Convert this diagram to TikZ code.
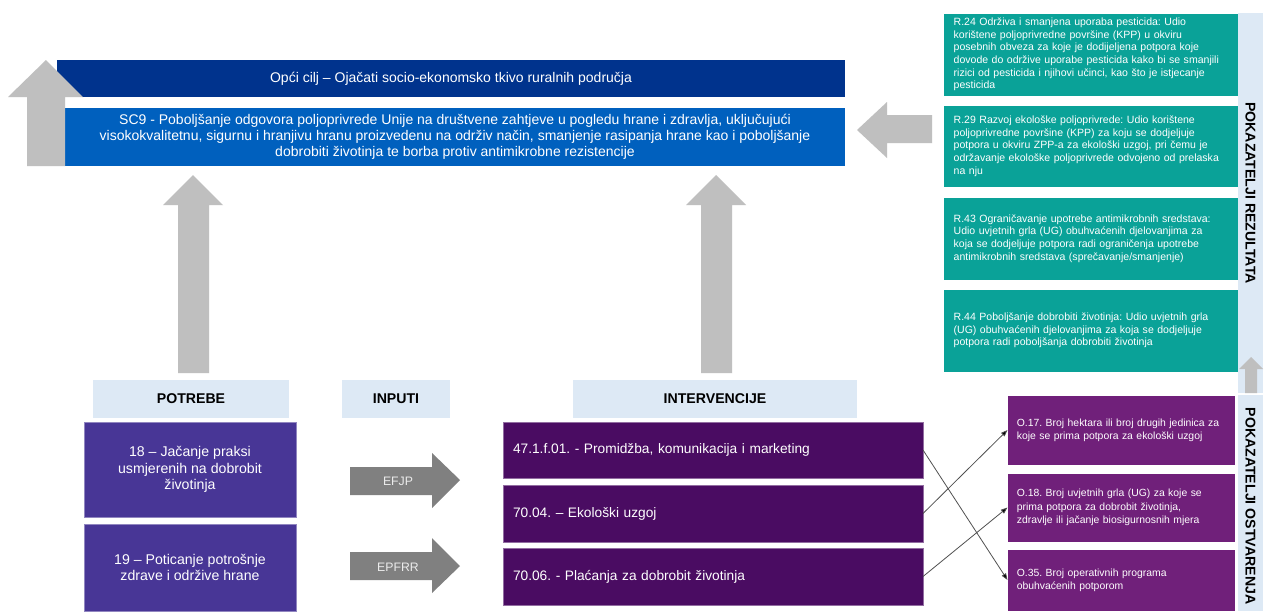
\documentclass[tikz,border=0pt]{standalone}
\usepackage{fontspec}
\setmainfont{Liberation Sans}
\usetikzlibrary{arrows.meta}
\frenchspacing
\definecolor{navyc}{RGB}{0,51,141}
\definecolor{scblue}{RGB}{0,96,190}
\definecolor{tealc}{RGB}{10,162,152}
\definecolor{potc}{RGB}{72,54,150}
\definecolor{intc}{RGB}{74,12,98}
\definecolor{outc}{RGB}{112,32,122}
\definecolor{hdrc}{RGB}{221,233,245}
\definecolor{arrlight}{RGB}{191,191,191}
\definecolor{arrdark}{RGB}{128,128,128}
\definecolor{connc}{RGB}{80,80,80}
\begin{document}
\begin{tikzpicture}[x=0.75pt,y=-0.75pt,
  blk/.style={rectangle, inner sep=0pt, outer sep=0pt, text=white},
  topbox/.style={blk, font=\fontsize{10.5}{11.8}\selectfont, align=center},
  tealbox/.style={blk, fill=tealc, draw=white, line width=0.4pt, minimum width=219pt, inner xsep=7.5pt, text width=206pt, align=left, font=\fontsize{7.9}{9.5}\selectfont},
  outbox/.style={blk, fill=outc, draw=white, line width=0.4pt, minimum width=170.25pt, inner xsep=7pt, text width=157pt, align=left, font=\fontsize{7.8}{10}\selectfont},
  intbox/.style={blk, fill=intc, draw=intc!60!white, line width=0.4pt, minimum width=315pt, inner xsep=7.5pt, text width=300pt, align=left, font=\fontsize{10.3}{12}\selectfont},
  potbox/.style={blk, fill=potc, draw=potc!60!white, line width=0.4pt, minimum width=159pt, align=center, font=\fontsize{10.6}{12.5}\selectfont},
  hdr/.style={blk, fill=hdrc, text=black, minimum height=28.5pt, font=\fontsize{10.6}{12}\selectfont\bfseries},
  strip/.style={blk, fill=hdrc, minimum width=18.75pt},
  striptext/.style={inner sep=0pt, rotate=-90, text=black, font=\fontsize{10.6}{12}\selectfont\bfseries},
  arrtext/.style={inner sep=0pt, text=white!92!black, font=\fontsize{9.2}{11}\selectfont},
  conn/.style={draw=connc, line width=0.6pt, -{Triangle[length=5pt,width=3.6pt,fill=black]}}
]
\useasboundingbox (0,0) rectangle (1264,611);
\fill[white] (0,0) rectangle (1264,611);

% top goals
\node[topbox, fill=navyc, minimum width=591pt, minimum height=27.75pt] (opci) at (451,78.5)
  {Opći cilj – Ojačati socio-ekonomsko tkivo ruralnih područja};
\node[topbox, fill=scblue, minimum width=585pt, minimum height=43.5pt] (sc9) at (455,137)
  {SC9 - Poboljšanje odgovora poljoprivrede Unije na društvene zahtjeve u pogledu hrane i zdravlja, uključujući\\
   visokokvalitetnu, sigurnu i hranjivu hranu proizvedenu na održiv način, smanjenje rasipanja hrane kao i poboljšanje\\
   dobrobiti životinja te borba protiv antimikrobne rezistencije};

% big left up arrow
\fill[arrlight] (27,166) -- (27,97) -- (8,97) -- (46,60) -- (83,97) -- (65,97) -- (65,166) -- cycle;

% arrow from results to SC9
\fill[arrlight] (857,130) -- (887,102) -- (887,115) -- (932,115) -- (932,143) -- (887,143) -- (887,158) -- cycle;

% up arrows from needs / interventions
\fill[arrlight] (193,175) -- (223,205) -- (209,205) -- (209,373) -- (178,373) -- (178,205) -- (163,205) -- cycle;
\fill[arrlight] (716,175) -- (746,205) -- (732,205) -- (732,373) -- (701,373) -- (701,205) -- (686,205) -- cycle;

% result indicators
\node[tealbox, minimum height=62.25pt] (r24) at (1091,54.5)
  {R.24 Održiva i smanjena uporaba pesticida: Udio\\
   korištene poljoprivredne površine (KPP) u okviru\\
   posebnih obveza za koje je dodijeljena potpora koje\\
   dovode do održive uporabe pesticida kako bi se smanjili\\
   rizici od pesticida i njihovi učinci, kao što je istjecanje\\
   pesticida};
\node[tealbox, minimum height=61.5pt] (r29) at (1091,146)
  {R.29 Razvoj ekološke poljoprivrede: Udio korištene\\
   poljoprivredne površine (KPP) za koju se dodjeljuje\\
   potpora u okviru ZPP-a za ekološki uzgoj, pri čemu je\\
   održavanje ekološke poljoprivrede odvojeno od prelaska\\
   na nju};
\node[tealbox, minimum height=62.25pt] (r43) at (1091,238.5)
  {R.43 Ograničavanje upotrebe antimikrobnih sredstava:\\
   Udio uvjetnih grla (UG) obuhvaćenih djelovanjima za\\
   koja se dodjeljuje potpora radi ograničenja upotrebe\\
   antimikrobnih sredstava (sprečavanje/smanjenje)};
\node[tealbox, minimum height=62.25pt] (r44) at (1091,330.5)
  {R.44 Poboljšanje dobrobiti životinja: Udio uvjetnih grla\\
   (UG) obuhvaćenih djelovanjima za koja se dodjeljuje\\
   potpora radi poboljšanja dobrobiti životinja};

% side strips
\node[strip, minimum height=285pt] (stripR) at (1250.5,203) {};
\node[striptext] (tR) at (1250.5,193) {POKAZATELJI REZULTATA};
\fill[arrlight] (1251,357) -- (1263,369) -- (1257,369) -- (1257,393) -- (1245,393) -- (1245,369) -- (1239,369) -- cycle;
\node[strip, minimum height=162pt] (stripO) at (1250.5,503) {};
\node[striptext] (tO) at (1250.5,506) {POKAZATELJI OSTVARENJA};

% output indicators
\node[outbox, minimum height=52.5pt] (o17) at (1121.5,430)
  {O.17. Broj hektara ili broj drugih jedinica za\\
   koje se prima potpora za ekološki uzgoj};
\node[outbox, minimum height=51.75pt] (o18) at (1121.5,507.5)
  {O.18. Broj uvjetnih grla (UG) za koje se\\
   prima potpora za dobrobit životinja,\\
   zdravlje ili jačanje biosigurnosnih mjera};
\node[outbox, minimum height=46.5pt] (o35) at (1121.5,580)
  {O.35. Broj operativnih programa\\
   obuhvaćenih potporom};

% headers
\node[hdr, minimum width=147pt] (hP) at (191,399) {POTREBE};
\node[hdr, minimum width=81pt] (hI) at (396,399) {INPUTI};
\node[hdr, minimum width=213pt] (hN) at (715,399) {INTERVENCIJE};

% needs
\node[potbox, minimum height=71.25pt] (p18) at (190,469.5)
  {18 – Jačanje praksi\\ usmjerenih na dobrobit\\ životinja};
\node[potbox, minimum height=65.25pt] (p19) at (190,567.5)
  {19 – Poticanje potrošnje\\ zdrave i održive hrane};

% inputs
\fill[arrdark] (350,467) -- (432,467) -- (432,453) -- (460,480) -- (432,508) -- (432,495) -- (350,495) -- cycle;
\node[arrtext] (efjp) at (398,481) {EFJP};
\fill[arrdark] (350,552) -- (432,552) -- (432,538) -- (460,566) -- (432,593) -- (432,580) -- (350,580) -- cycle;
\node[arrtext] (epfrr) at (398,567) {EPFRR};

% interventions
\node[intbox, minimum height=42pt] (i1) at (713,450) {47.1.f.01. - Promidžba, komunikacija i marketing};
\node[intbox, minimum height=42.75pt] (i2) at (713,513.5) {70.04. – Ekološki uzgoj};
\node[intbox, minimum height=42.75pt] (i3) at (713,576.5) {70.06. - Plaćanja za dobrobit životinja};

% connectors
\draw[conn] (i1.east) -- (o35.west);
\draw[conn] (i2.east) -- (o17.west);
\draw[conn] (i3.east) -- (o18.west);
\end{tikzpicture}
\end{document}
